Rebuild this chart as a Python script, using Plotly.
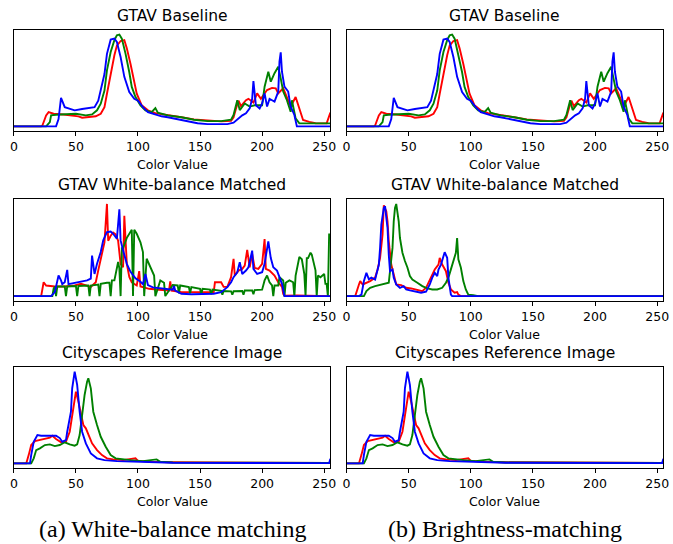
import plotly.graph_objects as go

# ---------------- data (relative histogram heights) ----------------
# GTAV Baseline
base_r_x = [0, 22, 23, 26, 28, 32, 40, 48, 52, 55, 61, 66, 70, 73, 75, 78, 81, 83, 86, 89, 91, 94, 97, 99, 103, 108, 114, 124, 135, 145, 156, 167, 175, 177, 179, 181, 183, 187, 189, 193, 196, 199, 201, 204, 208, 211, 213, 217, 221, 223, 227, 230, 233, 238, 243, 252, 254, 255]
base_r_y = [0, 0, 1, 12, 15.6, 13.8, 13, 12, 11, 9.5, 10, 11, 13.8, 21, 35.6, 57, 77.5, 88, 93, 94, 85, 68, 50, 35.6, 23, 17.5, 14.5, 12, 10, 7.6, 6.5, 5.5, 6, 10, 19.6, 28, 22, 28.5, 30, 26, 36, 30, 34, 39.6, 42, 41.5, 36, 41.5, 28.5, 21.6, 32, 19.6, 7, 5, 3.5, 3.3, 12.5, 15]
base_g_x = [0, 26, 29, 30, 34, 42, 50, 58, 63, 67, 70, 73, 75, 78, 81, 83, 85, 87, 90, 93, 95, 98, 102, 106, 111, 114, 116, 124, 135, 145, 156, 167, 175, 177, 180, 182, 186, 190, 194, 200, 202, 205, 207, 210, 213, 215, 217, 220, 223, 224, 227, 230, 254, 255]
base_g_y = [0, 0, 4.7, 12, 12.7, 13, 13.8, 12, 13, 17.5, 24.7, 39, 61, 81, 94, 99.3, 100, 95.6, 79, 59, 43, 32, 23, 17.5, 15.6, 20, 15, 12, 10, 7.3, 5.8, 5.8, 7.3, 12.4, 28.5, 17.8, 25, 21.6, 23, 23, 43.3, 59.6, 48.7, 58, 64.9, 52.3, 38, 28.5, 15.9, 28.5, 8.7, 3.3, 3.3, 3.3]
base_b_x = [0, 34, 36, 38, 41, 45, 49, 55, 61, 65, 68, 70, 73, 75, 78, 81, 83, 86, 89, 93, 97, 100, 104, 108, 114, 119, 124, 132, 140, 148, 156, 172, 177, 181, 184, 187, 190, 192, 193, 195, 198, 200, 202, 204, 206, 208, 210, 213, 214, 215, 216, 218, 221, 223, 226, 228, 255]
base_b_y = [0, 0, 8, 31, 21, 19, 17.5, 19, 20, 21, 28, 39, 57, 79, 94.5, 95.6, 92, 75.6, 54, 37.5, 30, 28, 21, 15.6, 13, 11, 10, 8, 5.5, 3.5, 2.5, 2.5, 4, 8.7, 12, 14.2, 19.6, 30, 49.4, 23, 19.6, 25, 36, 21.6, 30, 28.5, 27, 37.8, 70.5, 80.7, 59.6, 43.3, 38, 21.6, 12.5, 0, 0]

# GTAV White-balance Matched (white-balance matching)
wb_r_x = [0, 22, 24, 26, 33, 41, 49, 54, 62, 66, 68, 71, 73, 75, 76, 78, 80, 82, 84, 86, 88, 89, 91, 93, 95, 99, 101, 102, 109, 117, 125, 126, 127, 135, 143, 161, 162, 167, 169, 172, 175, 177, 178, 181, 184, 186, 188, 190, 192, 194, 197, 200, 202, 203, 206, 210, 213, 216, 217, 218, 228, 255]
wb_r_y = [0, 0, 15, 11.5, 10.4, 10.4, 11.5, 13.3, 10, 15, 27.9, 45.7, 58.3, 100, 60, 65.5, 69, 67, 60, 35, 31.3, 87, 35, 20.8, 15, 11.5, 27, 10.4, 7.9, 6.8, 6.1, 16, 6, 4.3, 4.3, 4.3, 15, 15, 10, 10, 20.5, 40.4, 22.3, 27.7, 29.5, 33, 50, 31.3, 45.7, 30.6, 29.5, 35, 61.8, 29.5, 27.7, 22.3, 15, 10, 2.5, 0.5, 0.8, 0]
wb_g_x = [0, 31, 32, 33, 34, 35, 41, 42, 43, 50, 51, 52, 60, 61, 62, 68, 69, 70, 75, 77, 78, 79, 81, 84, 85, 86, 87, 88, 91, 94, 95, 96, 97, 99, 102, 104, 105, 107, 110, 113, 114, 118, 121, 122, 128, 132, 133, 134, 141, 142, 143, 150, 151, 152, 158, 159, 160, 167, 168, 169, 175, 176, 177, 184, 185, 186, 192, 193, 194, 200, 202, 204, 206, 208, 209, 210, 213, 214, 217, 218, 219, 222, 225, 226, 227, 229, 230, 232, 234, 235, 236, 237, 239, 240, 242, 243, 244, 245, 247, 250, 251, 252, 253, 254, 255]
wb_g_y = [0, 0, 8, 10.4, 0, 10.4, 10.4, 0, 10.4, 11, 0, 11, 11.5, 0, 11.5, 12.5, 0, 13.3, 14.4, 14.4, 0, 17, 17, 37, 30, 0, 52, 52, 63.2, 70, 72, 0, 72, 67.6, 58.3, 47.8, 0, 40.5, 31.3, 22.3, 0, 17, 14.4, 0, 12, 11.5, 3, 11.5, 9.7, 3, 9.7, 8, 2, 8, 7, 2, 7, 5.6, 1.5, 5.6, 5.2, 1.5, 5.2, 5.5, 1.5, 6, 6.1, 2, 6.5, 7, 17, 22.3, 15, 11.5, 0, 11.5, 11.5, 20.5, 17, 0, 14.4, 17, 15, 0, 22.3, 35, 42.4, 40, 24, 0, 41.2, 41.2, 47, 45, 35, 28, 0, 22.3, 20.5, 24, 13.3, 13.3, 0, 67, 67]
wb_b_x = [0, 30, 33, 35, 36, 38, 39, 41, 43, 44, 49, 54, 59, 62, 63, 65, 67, 70, 72, 75, 78, 80, 83, 85, 86, 88, 91, 94, 98, 102, 104, 106, 108, 112, 120, 125, 128, 129, 130, 135, 143, 161, 167, 172, 175, 177, 180, 182, 184, 187, 189, 192, 193, 196, 200, 202, 204, 205, 207, 209, 212, 214, 216, 218, 255]
wb_b_y = [0, 0, 4.3, 17, 22.3, 17, 13, 15, 28.4, 13, 14.4, 15.5, 17, 19, 44, 24, 35, 47.8, 60.4, 69.3, 70, 67.6, 62.2, 94.2, 60.4, 49.6, 35, 26.3, 19.4, 15.5, 13, 24, 12, 9.5, 8.3, 8, 7, 11, 6, 2.5, 2, 2.5, 4.3, 9.7, 15, 20.5, 25.9, 36.7, 24, 27.7, 31.3, 49.3, 29.5, 24, 25.9, 35, 52.8, 59.3, 41.2, 31.3, 27.7, 20.5, 13.3, 0, 0]

# GTAV White-balance Matched (brightness matching)
br_r_x = [0, 7, 10, 11, 13, 16, 19, 23, 25, 27, 29, 30, 32, 33, 34, 36, 38, 40, 44, 48, 52, 56, 61, 64, 66, 69, 71, 74, 75, 77, 80, 82, 84, 87, 89, 90, 92, 255]
br_r_y = [0, 0, 12.6, 16.3, 12.6, 14.5, 16.3, 20, 28.8, 41.5, 66.8, 98.5, 92, 81.2, 59.5, 34.2, 23.3, 12.6, 11.9, 9, 8.3, 7.2, 5.4, 9, 14.5, 21.7, 28.8, 34.2, 41.5, 34.2, 27, 14.5, 7.2, 3.6, 4.3, 1.6, 0, 0]
br_g_x = [0, 14, 16, 19, 23, 27, 31, 34, 35, 37, 38, 39, 40, 41, 42, 43, 45, 47, 49, 51, 53, 57, 61, 65, 69, 73, 77, 80, 82, 84, 86, 88, 89, 90, 92, 94, 96, 98, 102, 106, 255]
br_g_y = [0, 0, 5.4, 9, 10.8, 11.9, 13.3, 14.5, 27, 52.3, 81.2, 95.7, 100, 92, 81, 63, 47, 38, 31, 21.7, 18, 14.5, 10.8, 8.3, 7.2, 7.2, 9, 14.5, 20, 29, 38, 47, 63, 40, 31, 16.3, 7.2, 1.6, 1, 0, 0]
br_b_x = [0, 10, 12, 14, 16, 18, 20, 23, 24, 26, 27, 28, 30, 31, 32, 33, 34, 35, 37, 38, 40, 43, 46, 48, 51, 55, 60, 64, 67, 69, 71, 73, 74, 76, 78, 79, 81, 82, 84, 85, 255]
br_b_y = [0, 0, 1.6, 16.3, 25.2, 18.2, 20, 18, 23.5, 34, 52.3, 77.6, 95.7, 97.5, 85, 74, 45, 27, 28.8, 20, 12.6, 9, 10.8, 7.2, 6.2, 4.7, 3.6, 4.7, 12.6, 20, 25.2, 21.6, 28.8, 34.2, 45, 47.6, 41.5, 20, 1.6, 0, 0]

# Cityscapes Reference Image
city_r_x = [0, 10, 12, 14, 17, 21, 25, 29, 31, 34, 38, 42, 45, 47, 49, 50, 52, 54, 56, 58, 61, 63, 67, 71, 75, 80, 88, 98, 100, 110, 128, 254, 255]
city_r_y = [0, 0, 9.3, 20, 24.4, 25.5, 27.3, 28, 30.2, 26.6, 23, 23.6, 34.5, 52.7, 70.9, 78.2, 67.3, 52.7, 41.8, 38.2, 29, 21.8, 14.5, 9.1, 5.5, 4.4, 3.6, 5.5, 2.8, 1.8, 1.2, 0.5, 1.5]
city_g_x = [0, 14, 16, 18, 21, 25, 29, 33, 37, 41, 45, 49, 51, 53, 55, 57, 59, 60, 62, 64, 67, 70, 74, 78, 82, 88, 94, 104, 115, 118, 128, 254, 255]
city_g_y = [0, 0, 5.5, 14.5, 16.4, 20, 20.7, 18.9, 20, 23, 20.7, 19.3, 20.7, 30.9, 52.7, 74.5, 89, 92.7, 81.8, 56.3, 41.8, 29, 18.2, 9.1, 5.5, 4.4, 3.6, 2.5, 4.4, 1.8, 1, 0.4, 0.4]
city_b_x = [0, 13, 14, 16, 19, 22, 26, 30, 34, 37, 39, 42, 43, 46, 47, 49, 51, 53, 55, 58, 62, 67, 73, 83, 96, 110, 128, 254, 255]
city_b_y = [0, 0, 9.3, 23.6, 30.9, 30.2, 30.2, 30.2, 30.2, 27.6, 23.6, 25.4, 34.5, 56.3, 81.8, 100, 85.5, 56.3, 34.5, 21.8, 10.9, 5.5, 3.6, 2.5, 1.8, 1.1, 0.7, 0.3, 5]

titles = ["GTAV Baseline", "GTAV Baseline",
          "GTAV White-balance Matched", "GTAV White-balance Matched",
          "Cityscapes Reference Image", "Cityscapes Reference Image"]
captions = ["(a) White-balance matching", "(b) Brightness-matching"]
tick_vals = [0, 50, 100, 150, 200, 250]
x_label = "Color Value"

datasets = [
    (base_r_x, base_r_y, base_g_x, base_g_y, base_b_x, base_b_y),
    (base_r_x, base_r_y, base_g_x, base_g_y, base_b_x, base_b_y),
    (wb_r_x, wb_r_y, wb_g_x, wb_g_y, wb_b_x, wb_b_y),
    (br_r_x, br_r_y, br_g_x, br_g_y, br_b_x, br_b_y),
    (city_r_x, city_r_y, city_g_x, city_g_y, city_b_x, city_b_y),
    (city_r_x, city_r_y, city_g_x, city_g_y, city_b_x, city_b_y),
]

# ---------------- layout ----------------
W, H = 673, 544
col_px = [(10, 331.3), (347.7, 669.3)]
row_px = [(30, 131), (199.3, 300.7), (367, 468)]
FONT = "DejaVu Sans"

fig = go.Figure()
layout = dict(
    width=W, height=H, margin=dict(l=0, r=0, t=0, b=0),
    paper_bgcolor="white", plot_bgcolor="white", showlegend=False,
    font=dict(family=FONT, color="black"),
)
annotations = []
colors = ["#ff0000", "#008000", "#0000ff"]

for i in range(6):
    r, c = divmod(i, 2)
    n = i + 1
    xa = "x" if n == 1 else f"x{n}"
    ya = "y" if n == 1 else f"y{n}"
    d = datasets[i]
    for k in range(3):
        fig.add_trace(go.Scatter(x=d[2 * k], y=d[2 * k + 1], mode="lines",
                                 line=dict(color=colors[k], width=1.9),
                                 xaxis=xa, yaxis=ya, hoverinfo="skip"))
    ymax = max(max(d[1]), max(d[3]), max(d[5]))
    x0, x1 = col_px[c]
    t0, t1 = row_px[r]
    xdom = [x0 / W, x1 / W]
    ydom = [1 - t1 / H, 1 - t0 / H]
    layout["xaxis" if n == 1 else f"xaxis{n}"] = dict(
        domain=xdom, anchor=ya, range=[0, 255], tickvals=tick_vals,
        ticks="outside", ticklen=4.4, tickwidth=1, tickcolor="black",
        tickfont=dict(size=12.5, family=FONT, color="black"),
        showline=True, mirror=True, linecolor="black", linewidth=1,
        showgrid=False, zeroline=False)
    layout["yaxis" if n == 1 else f"yaxis{n}"] = dict(
        domain=ydom, anchor=xa, range=[-0.05 * ymax, 1.05 * ymax],
        showticklabels=False, ticks="", showline=True, mirror=True,
        linecolor="black", linewidth=1, showgrid=False, zeroline=False)
    cx = (xdom[0] + xdom[1]) / 2
    annotations.append(dict(text=titles[i], x=cx, y=ydom[1], xref="paper", yref="paper",
                            xanchor="center", yanchor="bottom", yshift=3, showarrow=False,
                            font=dict(size=15.5, family=FONT, color="black")))
    annotations.append(dict(text=x_label, x=cx, y=ydom[0], xref="paper", yref="paper",
                            xanchor="center", yanchor="top", yshift=-24, showarrow=False,
                            font=dict(size=12.5, family=FONT, color="black")))

for c in range(2):
    x0, x1 = col_px[c]
    annotations.append(dict(text=captions[c], x=(x0 + x1) / 2 / W, y=0, xref="paper", yref="paper",
                            xanchor="center", yanchor="bottom", yshift=0, showarrow=False,
                            font=dict(size=24, family="Liberation Serif", color="black")))

layout["annotations"] = annotations
fig.update_layout(**layout)
fig.write_html("out.html", config={"displayModeBar": False})

# remove the browser's default body margin so the figure fills the window exactly
with open("out.html", encoding="utf-8") as f:
    html = f.read()
html = html.replace("<body>", '<body style="margin:0;padding:0;overflow:hidden;">', 1)
with open("out.html", "w", encoding="utf-8") as f:
    f.write(html)
